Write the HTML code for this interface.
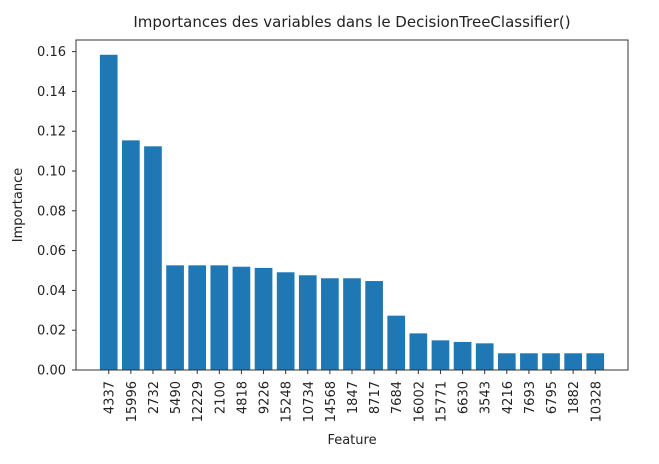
<!DOCTYPE html>
<html><head><meta charset="utf-8"><style>
body{margin:0;background:#fff;}
svg{display:block;font-family:"DejaVu Sans","Liberation Sans",sans-serif;}
</style></head><body>
<svg id="chart" width="659" height="464" viewBox="0 0 659 464"></svg>
<script>
const categories=["4337","15996","2732","5490","12229","2100","4818","9226","15248","10734","14568","1847","8717","7684","16002","15771","6630","3543","4216","7693","6795","1882","10328"];
const values=[0.1584,0.1154,0.1124,0.0526,0.0526,0.0526,0.0519,0.0513,0.0491,0.0476,0.0461,0.0461,0.0447,0.0273,0.0184,0.0149,0.0141,0.0134,0.0084,0.0084,0.0084,0.0084,0.0084];
const yTicks=[0,0.02,0.04,0.06,0.08,0.10,0.12,0.14,0.16];
const yTickLabels=["0.00","0.02","0.04","0.06","0.08","0.10","0.12","0.14","0.16"];
const NS="http://www.w3.org/2000/svg";
const svg=document.getElementById('chart');
const L=76,R=628,T=40,B=370;
const n=categories.length;
const xmin=-1.48,xmax=n-1+1.48;
const x=i=>L+(i-xmin)/(xmax-xmin)*(R-L);
const y=v=>B-v/0.02*39.8;
const bw=0.8*(R-L)/(xmax-xmin);
function el(t,a){const e=document.createElementNS(NS,t);for(const k in a)e.setAttribute(k,a[k]);svg.appendChild(e);return e;}
const title=el('text',{x:352,y:27,'text-anchor':'middle','font-size':15,fill:'#222'});
title.textContent="Importances des variables dans le DecisionTreeClassifier()";


values.forEach((v,i)=>{
 const r=el('rect',{x:x(i)-bw/2,y:y(v),width:bw,height:B-y(v),fill:'#1f77b4'});
 
 
 const tk=el('line',{x1:x(i),x2:x(i),y1:B,y2:B+4,stroke:'#333','stroke-width':1});
 
 
 const t=el('text',{x:0,y:0,'text-anchor':'end','font-size':13,fill:'#222',transform:`translate(${x(i)+5},${B+11}) rotate(-90)`});
 t.textContent=categories[i];
 
 
});
yTicks.forEach((v,i)=>{
 const tk=el('line',{x1:L-4,x2:L,y1:y(v),y2:y(v),stroke:'#333','stroke-width':1});
 
 
 const t=el('text',{x:L-10,y:y(v)+4.5,'text-anchor':'end','font-size':13,fill:'#222'});
 t.textContent=yTickLabels[i];
 
 
});
const frame=el('rect',{x:L,y:T,width:R-L,height:B-T,fill:'none',stroke:'#333','stroke-width':1});


const xl=el('text',{x:352,y:444,'text-anchor':'middle','font-size':13,fill:'#222'});
xl.textContent="Feature";


const yl=el('text',{x:0,y:0,'text-anchor':'middle','font-size':13,fill:'#222',transform:'translate(22,205) rotate(-90)'});
yl.textContent="Importance";


</script>
</body></html>
